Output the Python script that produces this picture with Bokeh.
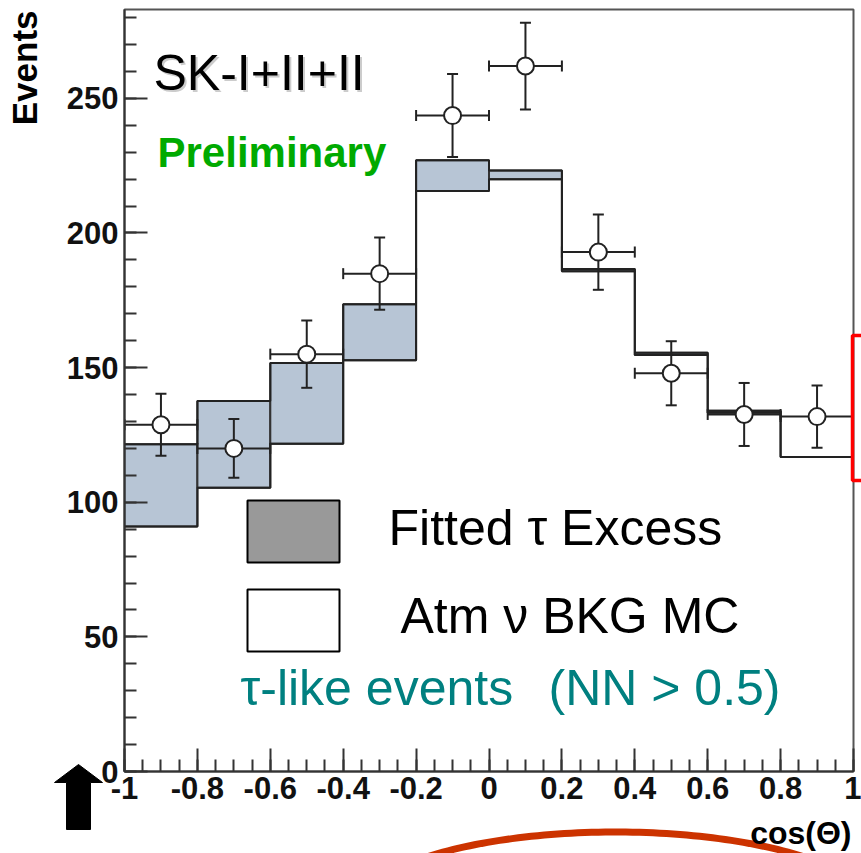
import numpy as np
from bokeh.plotting import figure
from bokeh.models import FixedTicker, Label, BoxAnnotation, GridBox
from bokeh.embed import file_html
from bokeh.resources import INLINE

# ---------------- data ----------------
bin_edges = [-1.0, -0.8, -0.6, -0.4, -0.2, 0.0, 0.2, 0.4, 0.6, 0.8, 1.0]
bkg_mc = [91.0, 105.4, 121.7, 152.7, 215.6, 220.0, 185.8, 154.7, 133.2, 116.8]
total_mc = [121.5, 137.6, 151.7, 173.5, 227.0, 223.2, 186.6, 155.5, 134.0, 116.8]

data_x = [-0.9, -0.7, -0.5, -0.3, -0.1, 0.1, 0.3, 0.5, 0.7, 0.9]
data_y = [128.8, 120.0, 155.0, 184.9, 243.6, 262.0, 192.9, 147.9, 132.6, 131.8]
data_err = [11.5, 10.9, 12.5, 13.4, 15.4, 16.1, 14.0, 11.9, 11.7, 11.6]

x_ticks = [-1.0, -0.8, -0.6, -0.4, -0.2, 0.0, 0.2, 0.4, 0.6, 0.8, 1.0]
x_tick_labels = ["-1", "-0.8", "-0.6", "-0.4", "-0.2", "0", "0.2", "0.4", "0.6", "0.8", "1"]
y_ticks = [0, 50, 100, 150, 200, 250]
y_tick_labels = ["0", "50", "100", "150", "200", "250"]

# ---------------- layout ----------------
W, H = 861, 853
FL, FR, FT, FB = 124, 853, 9, 771
X0, X1 = -1.0, 1.0
Y0, Y1 = 0.0, 283.0


def dx(px):
    return X0 + (px - FL) / (FR - FL) * (X1 - X0)


def dy(py):
    return Y0 + (FB - py) / (FB - FT) * (Y1 - Y0)


# background figure: whole canvas, same coordinate mapping, holds
# everything that lies outside the main frame
bg = figure(width=W, height=H, x_range=(dx(0), dx(W)), y_range=(dy(H), dy(0)),
            output_backend="svg", toolbar_location=None,
            x_axis_type=None, y_axis_type=None, min_border=0)
bg.grid.visible = False
bg.outline_line_color = None
bg.background_fill_color = "white"
bg.border_fill_color = "white"

p = figure(width=W, height=H, x_range=(X0, X1), y_range=(Y0, Y1),
           output_backend="svg", toolbar_location=None,
           min_border_left=FL, min_border_right=W - FR,
           min_border_top=FT, min_border_bottom=H - FB)
p.grid.visible = False
p.outline_line_color = "#555555"
p.outline_line_width = 2
p.background_fill_alpha = 0.0
p.border_fill_alpha = 0.0

for fig in (bg, p):
    try:
        fig.frame_align = False
    except Exception:
        pass

AX = "#333333"
for ax in (p.xaxis[0], p.yaxis[0]):
    ax.axis_line_color = AX
    ax.axis_line_width = 2
    ax.major_tick_line_color = AX
    ax.major_tick_line_width = 2
    ax.minor_tick_line_color = AX
    ax.minor_tick_line_width = 2
    ax.major_tick_in = 23
    ax.major_tick_out = 0
    ax.minor_tick_in = 12
    ax.minor_tick_out = 0
    ax.major_label_text_font = "Liberation Sans"
    ax.major_label_text_font_style = "bold"
    ax.major_label_text_font_size = "31px"
    ax.major_label_text_color = "#111111"

x_minor = [round(-1.0 + 0.05 * i, 2) for i in range(41)]
y_minor = list(range(0, 290, 10))
p.xaxis[0].ticker = FixedTicker(ticks=x_ticks, minor_ticks=x_minor)
p.yaxis[0].ticker = FixedTicker(ticks=y_ticks, minor_ticks=y_minor)
p.xaxis[0].major_label_overrides = {t: l for t, l in zip(x_ticks, x_tick_labels)}
p.yaxis[0].major_label_overrides = {t: l for t, l in zip(y_ticks, y_tick_labels)}
p.xaxis[0].major_label_standoff = 5
p.yaxis[0].major_label_standoff = 6

# ---------------- histogram ----------------
left = bin_edges[:-1]
right = bin_edges[1:]
p.quad(left=left, right=right, bottom=bkg_mc, top=total_mc,
       fill_color="#b7c5d5", line_color="#333333", line_width=2)
p.step(x=bin_edges, y=list(bkg_mc) + [bkg_mc[-1]], mode="after",
       line_color="#222222", line_width=2)
p.step(x=bin_edges, y=list(total_mc) + [total_mc[-1]], mode="after",
       line_color="#222222", line_width=2)

# ---------------- data points with errors ----------------
lo = [y - e for y, e in zip(data_y, data_err)]
hi = [y + e for y, e in zip(data_y, data_err)]
half = [(r - l) / 2 for l, r in zip(left, right)]
xlo = [x - h for x, h in zip(data_x, half)]
xhi = [x + h for x, h in zip(data_x, half)]
EB = "#222222"
p.segment(x0=data_x, y0=lo, x1=data_x, y1=hi, line_color=EB, line_width=2)
p.segment(x0=xlo, y0=data_y, x1=xhi, y1=data_y, line_color=EB, line_width=2)
p.scatter(x=data_x + data_x, y=lo + hi, marker="dash", size=11,
          line_color=EB, line_width=2)
p.scatter(x=xlo + xhi, y=data_y + data_y, marker="dash", size=11,
          angle=np.pi / 2, line_color=EB, line_width=2)
p.scatter(x=data_x, y=data_y, marker="circle", size=17,
          fill_color="white", line_color="#222222", line_width=2)

# ---------------- legend boxes ----------------
p.add_layout(BoxAnnotation(left=dx(247), right=dx(339), top=dy(500), bottom=dy(562),
                           fill_color="#999999", fill_alpha=1.0,
                           line_color="black", line_width=2, line_alpha=1.0))
p.add_layout(BoxAnnotation(left=dx(247), right=dx(339), top=dy(589), bottom=dy(651),
                           fill_color="white", fill_alpha=1.0,
                           line_color="black", line_width=2, line_alpha=1.0))


# ---------------- texts ----------------
BASE_SHIFT = 0.4  # baseline correction, in em


def lab(fig, x, y, text, size, color="black", style="normal", align="left",
        angle=0.0, font="Liberation Sans"):
    s = BASE_SHIFT * size
    if angle:
        x, y = x - s, y
    else:
        x, y = x, y - s
    fig.add_layout(Label(x=dx(x), y=dy(y), text=text, text_font=font,
                         text_font_size=f"{size}px", text_color=color,
                         text_font_style=style, text_align=align,
                         text_baseline="alphabetic", angle=angle))


lab(p, 155, 94, "SK-I+II+II", 50, color="#cccccc")
lab(p, 153, 92, "SK-I+II+II", 50)
lab(p, 157, 169, "Preliminary", 42, color="#00aa00", style="bold")
lab(p, 388, 547, "Fitted \u03c4 Excess", 50)
lab(p, 400, 635, "Atm \u03bd BKG MC", 50)
lab(p, 240, 707, "\u03c4-like events", 50, color="#008080")
lab(p, 548, 707, "(NN > 0.5)", 50, color="#008080")

# ---------------- decorations (outside the frame, on the background) ----------------
arrow_px = [66, 90, 90, 102, 78, 54, 66]
arrow_py = [829, 829, 782, 782, 764, 782, 782]
bg.patch(x=[dx(v) for v in arrow_px], y=[dy(v) for v in arrow_py],
         fill_color="black", line_color="black", line_width=1)

cx, cy, rx, ry = 615.0, 911.5, 260.0, 80.0
t = np.linspace(np.pi, 2 * np.pi, 120)
bg.line(x=[dx(v) for v in cx + rx * np.cos(t)], y=[dy(v) for v in cy + ry * np.sin(t)],
        line_color="#cc3300", line_width=7)

lab(bg, 38, 10, "Events", 35, style="bold", align="right", angle=np.pi / 2)
lab(bg, 851, 845, "cos(\u0398)", 32, style="bold", align="right")

# red bracket at the right edge, drawn above the frame outline
br = figure(width=W, height=H, x_range=(dx(0), dx(W)), y_range=(dy(H), dy(0)),
            output_backend="svg", toolbar_location=None,
            x_axis_type=None, y_axis_type=None, min_border=0)
br.grid.visible = False
br.outline_line_color = None
br.background_fill_alpha = 0.0
br.border_fill_alpha = 0.0
try:
    br.frame_align = False
except Exception:
    pass
br_px = [862, 852, 852, 862]
br_py = [335, 335, 480, 480]
br.line(x=[dx(v) for v in br_px], y=[dy(v) for v in br_py],
        line_color="#ff0000", line_width=3.5)

layout = GridBox(children=[(bg, 0, 0), (p, 0, 0), (br, 0, 0)])
open("out.html", "w").write(file_html(layout, INLINE))
